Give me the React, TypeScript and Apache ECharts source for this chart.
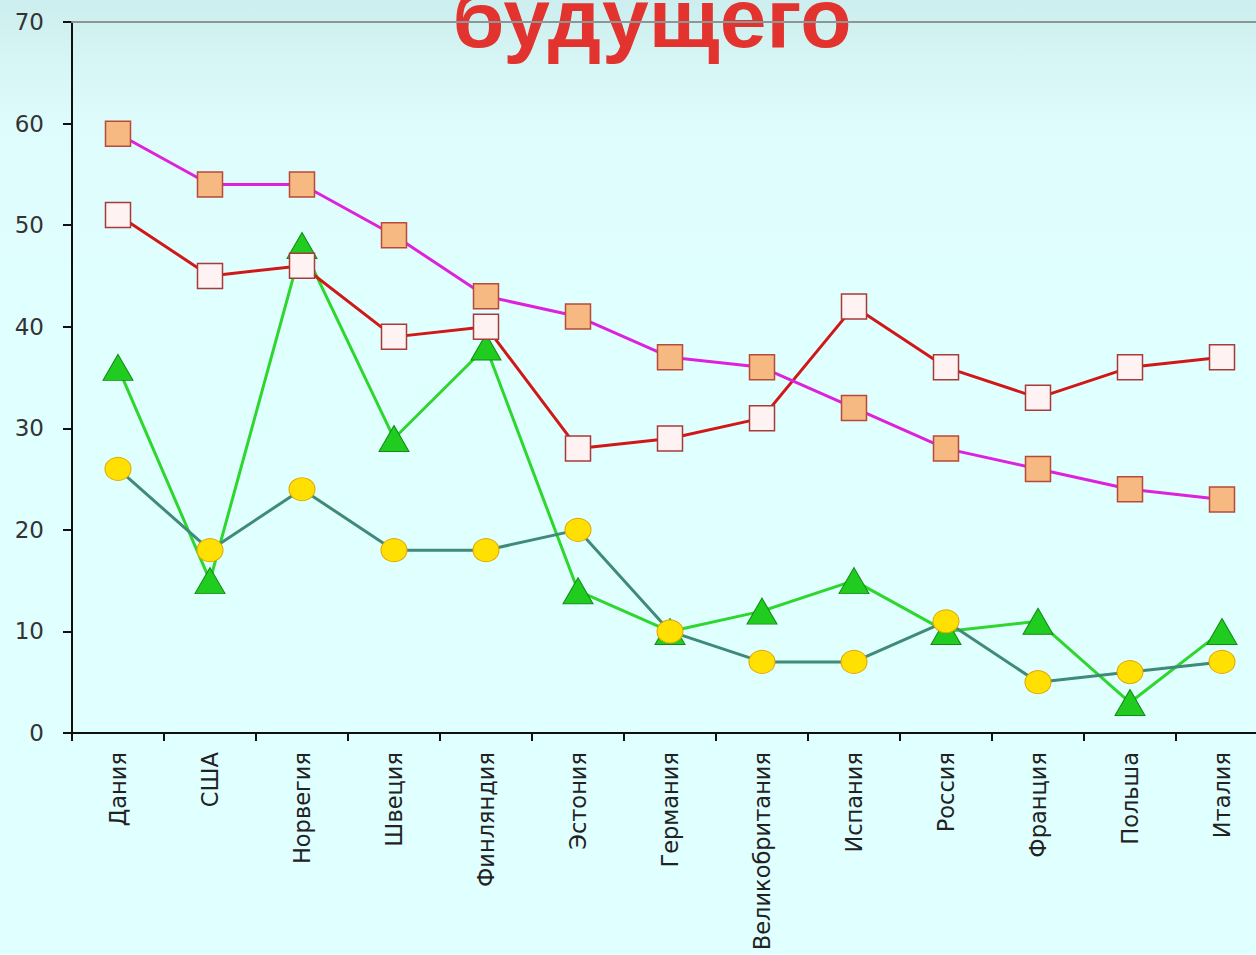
import React, { useEffect, useRef } from "react";
import * as echarts from "echarts";

const countries = [
  "Дания", "США", "Норвегия", "Швеция", "Финляндия", "Эстония", "Германия",
  "Великобритания", "Испания", "Россия", "Франция", "Польша", "Италия",
];
const seriesMagenta = [59, 54, 54, 49, 43, 41, 37, 36, 32, 28, 26, 24, 23];
const seriesRed = [51, 45, 46, 39, 40, 28, 29, 31, 42, 36, 33, 36, 37];
const seriesGreen = [36, 15, 48, 29, 38, 14, 10, 12, 15, 10, 11, 3, 10];
const seriesTeal = [26, 18, 24, 18, 18, 20, 10, 7, 7, 11, 5, 6, 7];
const yTicks = [0, 10, 20, 30, 40, 50, 60, 70];
const titleText = "будущего";

export default function App() {
  const ref = useRef<HTMLDivElement>(null);
  useEffect(() => {
    if (!ref.current) return;
    const chart = echarts.init(ref.current, undefined, { renderer: "svg" });
    const labelFont = "DejaVu Sans";
    chart.setOption({
      animation: false,
      backgroundColor: "transparent",
      grid: {
        left: 72,
        top: 22,
        height: 711,
        width: 1196,
        containLabel: false,
        outerBoundsMode: "none",
      },
      graphic: [
        {
          type: "text",
          z: 1,
          x: 652,
          y: 18,
          style: {
            text: titleText,
            fill: "#e2332e",
            font: "bold 84px 'Liberation Sans', Arial, sans-serif",
            textAlign: "center",
            textVerticalAlign: "middle",
          },
        },
      ],
      xAxis: [
        {
          type: "category",
          data: countries,
          boundaryGap: true,
          axisLine: { lineStyle: { color: "#111", width: 2 } },
          axisTick: { show: true, length: 8, lineStyle: { color: "#111", width: 2 } },
          axisLabel: {
            rotate: 90,
            interval: 0,
            margin: 19,
            color: "#222",
            fontFamily: labelFont,
            fontSize: 22.5,
          },
          splitLine: { show: false },
        },
        {
          type: "category",
          data: countries,
          position: "top",
          z: 5,
          axisLine: { lineStyle: { color: "#8c9696", width: 2 } },
          axisTick: { show: false },
          axisLabel: { show: false },
          splitLine: { show: false },
        },
      ],
      yAxis: {
        type: "value",
        min: yTicks[0],
        max: yTicks[yTicks.length - 1],
        interval: 10,
        axisLine: { show: true, lineStyle: { color: "#111", width: 2 } },
        axisTick: { show: true, length: 9, lineStyle: { color: "#111", width: 2 } },
        axisLabel: {
          margin: 28,
          color: "#333",
          fontFamily: labelFont,
          fontSize: 23,
        },
        splitLine: { show: false },
      },
      series: [
        {
          type: "line",
          data: seriesGreen,
          z: 2,
          symbol: "triangle",
          symbolSize: [30, 26],
          lineStyle: { color: "#2ed62e", width: 3 },
          itemStyle: { color: "#1fcc1f", borderColor: "#138a13", borderWidth: 1 },
        },
        {
          type: "line",
          data: seriesTeal,
          z: 3,
          symbol: "circle",
          symbolSize: [26, 23],
          lineStyle: { color: "#3f8a78", width: 3 },
          itemStyle: { color: "#ffe000", borderColor: "#e0a800", borderWidth: 1 },
        },
        {
          type: "line",
          data: seriesRed,
          z: 4,
          symbol: "rect",
          symbolSize: 25,
          lineStyle: { color: "#d01818", width: 3 },
          itemStyle: { color: "#fff2f2", borderColor: "#a83a3a", borderWidth: 1.5 },
        },
        {
          type: "line",
          data: seriesMagenta,
          z: 5,
          symbol: "rect",
          symbolSize: 25,
          lineStyle: { color: "#dd22dd", width: 3 },
          itemStyle: { color: "#f7b982", borderColor: "#b84a3a", borderWidth: 1.5 },
        },
      ],
    });
    return () => chart.dispose();
  }, []);
  return (
    <div
      style={{
        position: "fixed",
        left: 0,
        top: 0,
        width: 1256,
        height: 955,
        overflow: "hidden",
        background:
          "linear-gradient(to bottom, #cdeeee 0px, #d6f5f5 60px, #dffcfc 130px, #e0ffff 300px, #e0ffff 955px)",
      }}
    >
      <div ref={ref} style={{ width: 1300, height: 955 }} />
    </div>
  );
}
